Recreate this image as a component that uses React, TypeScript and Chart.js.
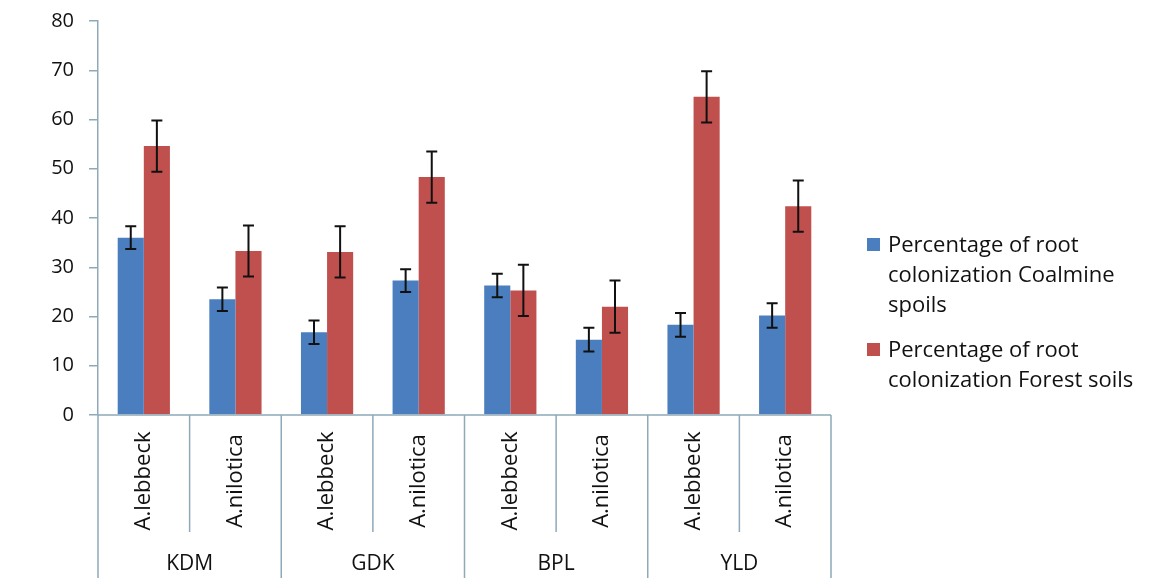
import React, { useEffect, useRef } from "react";
import { Chart, registerables } from "chart.js";

Chart.register(...registerables);

const species = ["A.lebbeck", "A.nilotica", "A.lebbeck", "A.nilotica", "A.lebbeck", "A.nilotica", "A.lebbeck", "A.nilotica"];
const sites = ["KDM", "GDK", "BPL", "YLD"];
const coalmine = [36.0, 23.5, 16.8, 27.3, 26.3, 15.3, 18.3, 20.2];
const coalmineErr = [2.3, 2.4, 2.4, 2.3, 2.4, 2.4, 2.4, 2.5];
const forest = [54.6, 33.3, 33.1, 48.3, 25.3, 22.0, 64.6, 42.4];
const forestErr = [5.2, 5.2, 5.2, 5.2, 5.2, 5.3, 5.2, 5.2];
const seriesLabels = [
  ["Percentage of root", "colonization Coalmine", "spoils"],
  ["Percentage of root", "colonization Forest soils"],
];
const yTicks = [0, 10, 20, 30, 40, 50, 60, 70, 80];

const BLUE = "#4A7EBE";
const RED = "#C0504D";
const AXIS = "#8FA9B9";
const FONT = "'Open Sans', 'Noto Sans', sans-serif";

const errorBars = {
  id: "errorBars",
  afterDatasetsDraw(chart: any) {
    const ctx = chart.ctx;
    const y = chart.scales.y;
    const errs = [coalmineErr, forestErr];
    ctx.save();
    ctx.strokeStyle = "#111";
    ctx.lineWidth = 2;
    chart.data.datasets.forEach((ds: any, i: number) => {
      const meta = chart.getDatasetMeta(i);
      meta.data.forEach((el: any, j: number) => {
        const v = ds.data[j];
        const e = errs[i][j];
        const x = el.x;
        const t = y.getPixelForValue(v + e);
        const b = y.getPixelForValue(v - e);
        const c = 5.5;
        ctx.beginPath();
        ctx.moveTo(x, t);
        ctx.lineTo(x, b);
        ctx.moveTo(x - c, t);
        ctx.lineTo(x + c, t);
        ctx.moveTo(x - c, b);
        ctx.lineTo(x + c, b);
        ctx.stroke();
      });
    });
    ctx.restore();
  },
};

const xAxisDraw = {
  id: "xAxisDraw",
  afterDraw(chart: any) {
    const ctx = chart.ctx;
    const xs = chart.scales.x;
    const area = chart.chartArea;
    const n = species.length;
    const half = (xs.getPixelForValue(1) - xs.getPixelForValue(0)) / 2;
    const H = chart.height;
    ctx.save();
    ctx.strokeStyle = AXIS;
    ctx.lineWidth = 1.5;
    ctx.beginPath();
    ctx.moveTo(area.left, area.bottom);
    ctx.lineTo(area.right, area.bottom);
    for (let i = 0; i <= n; i++) {
      const x = xs.getPixelForValue(0) - half + i * 2 * half;
      const full = i % 2 === 0;
      ctx.moveTo(x, area.bottom);
      ctx.lineTo(x, full ? H : area.bottom + 117);
    }
    ctx.stroke();
    ctx.fillStyle = "#111";
    ctx.font = `22px ${FONT}`;
    ctx.textAlign = "center";
    ctx.textBaseline = "middle";
    for (let i = 0; i < n; i++) {
      const cx = xs.getPixelForValue(i);
      ctx.save();
      ctx.translate(cx, area.bottom + 66);
      ctx.rotate(-Math.PI / 2);
      ctx.fillText(species[i], 0, 0);
      ctx.restore();
    }
    ctx.font = `21px ${FONT}`;
    for (let g = 0; g < sites.length; g++) {
      const cx = (xs.getPixelForValue(2 * g) + xs.getPixelForValue(2 * g + 1)) / 2;
      ctx.fillText(sites[g], cx, area.bottom + 149);
    }
    ctx.restore();
  },
};

const legendDraw = {
  id: "legendDraw",
  afterDraw(chart: any) {
    const ctx = chart.ctx;
    const area = chart.chartArea;
    const x0 = area.right + 36;
    let base = area.bottom - 163;
    ctx.save();
    ctx.font = `22px ${FONT}`;
    ctx.textAlign = "left";
    ctx.textBaseline = "alphabetic";
    chart.data.datasets.forEach((ds: any, i: number) => {
      ctx.fillStyle = ds.backgroundColor;
      ctx.fillRect(x0, base - 14, 13, 13);
      ctx.fillStyle = "#111";
      seriesLabels[i].forEach((line: string, k: number) => {
        ctx.fillText(line, x0 + 21, base + k * 30);
      });
      base += (seriesLabels[i].length - 1) * 30 + 45;
    });
    ctx.restore();
  },
};

export default function App() {
  const ref = useRef<HTMLCanvasElement>(null);
  useEffect(() => {
    document.body.style.margin = "0";
    const chart = new Chart(ref.current as HTMLCanvasElement, {
      type: "bar",
      data: {
        labels: species.map((s, i) => `${sites[Math.floor(i / 2)]} ${s}`),
        datasets: [
          { label: seriesLabels[0].join(" "), data: coalmine, backgroundColor: BLUE, borderWidth: 0 },
          { label: seriesLabels[1].join(" "), data: forest, backgroundColor: RED, borderWidth: 0 },
        ],
      },
      options: {
        responsive: false,
        animation: false,
        layout: { padding: { left: 0, top: 21, right: 333, bottom: 163 } },
        plugins: { legend: { display: false }, tooltip: { enabled: false } },
        datasets: { bar: { categoryPercentage: 0.57, barPercentage: 1.0 } },
        scales: {
          x: { display: false },
          y: {
            min: 0,
            max: 80,
            afterFit: (s: any) => { s.width = 98; s.paddingTop = 0; s.paddingBottom = 0; },
            afterBuildTicks: (s: any) => { s.ticks = yTicks.map((v) => ({ value: v })); },
            grid: { drawOnChartArea: false, drawTicks: true, tickLength: 9, color: AXIS, lineWidth: 1.5 },
            border: { color: AXIS, width: 1.5 },
            ticks: { color: "#111", padding: 15, font: { family: FONT, size: 20 } },
          },
        },
      },
      plugins: [errorBars, xAxisDraw, legendDraw],
    });
    return () => chart.destroy();
  }, []);
  return (
    <div style={{ width: 1164, height: 578, background: "#fff" }}>
      <canvas ref={ref} width={1164} height={578} />
    </div>
  );
}
